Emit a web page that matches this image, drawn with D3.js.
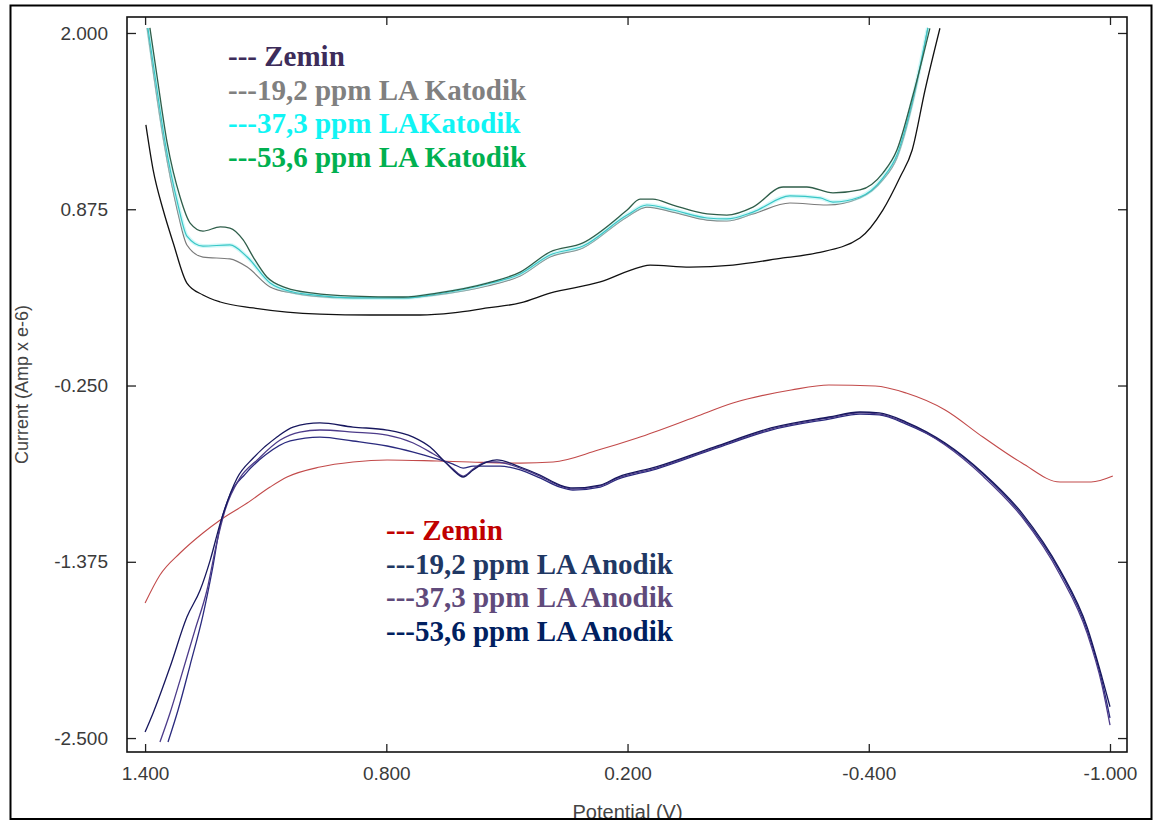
<!DOCTYPE html>
<html>
<head>
<meta charset="utf-8">
<script src="https://cdn.jsdelivr.net/npm/d3@7"></script>
<style>
  html, body { margin: 0; padding: 0; background: #fff; }
  svg { display: block; }
</style>
</head>
<body>
<svg id="chart" width="1160" height="822"></svg>
<script>
// Cyclic voltammetry: cathodic (upper) and anodic (lower) sweeps, [potential V, current uA]
const katodikZemin = [
  [1.398, 1.413], [1.380, 1.126], [1.355, 0.870], [1.330, 0.660], [1.296, 0.404],
  [1.256, 0.328], [1.213, 0.283], [1.131, 0.245], [1.047, 0.219], [0.965, 0.206],
  [0.840, 0.200], [0.716, 0.200], [0.634, 0.213], [0.549, 0.245], [0.467, 0.277],
  [0.393, 0.340], [0.268, 0.411], [0.169, 0.506], [0.144, 0.519], [0.045, 0.506],
  [-0.062, 0.519], [-0.187, 0.564], [-0.271, 0.596], [-0.378, 0.692], [-0.435, 0.870],
  [-0.478, 1.081], [-0.508, 1.253], [-0.540, 1.636], [-0.577, 2.030]
];
const katodik19 = [
  [1.395, 2.032], [1.378, 1.719], [1.353, 1.298], [1.320, 0.870], [1.296, 0.647],
  [1.256, 0.570], [1.189, 0.558], [1.146, 0.506], [1.089, 0.379], [1.032, 0.340],
  [0.982, 0.321], [0.883, 0.309], [0.758, 0.309], [0.674, 0.328], [0.549, 0.385],
  [0.467, 0.449], [0.393, 0.570], [0.311, 0.628], [0.201, 0.826], [0.152, 0.889],
  [0.087, 0.857], [0.002, 0.806], [-0.047, 0.800], [-0.112, 0.845], [-0.204, 0.915],
  [-0.296, 0.902], [-0.378, 0.947], [-0.435, 1.062], [-0.470, 1.202], [-0.508, 1.541],
  [-0.547, 2.032]
];
const katodik37 = [
  [1.393, 2.032], [1.375, 1.719], [1.350, 1.298], [1.318, 0.902], [1.296, 0.704],
  [1.256, 0.640], [1.189, 0.647], [1.146, 0.570], [1.089, 0.404], [1.032, 0.347],
  [0.982, 0.328], [0.883, 0.309], [0.758, 0.309], [0.674, 0.334], [0.549, 0.398],
  [0.467, 0.462], [0.393, 0.583], [0.311, 0.640], [0.201, 0.838], [0.152, 0.902],
  [0.087, 0.870], [0.002, 0.819], [-0.047, 0.813], [-0.112, 0.857], [-0.204, 0.960],
  [-0.279, 0.947], [-0.311, 0.921], [-0.378, 0.953], [-0.435, 1.074], [-0.470, 1.221],
  [-0.508, 1.560], [-0.547, 2.032]
];
const katodik53 = [
  [1.388, 2.032], [1.370, 1.719], [1.345, 1.298], [1.313, 0.953], [1.288, 0.787],
  [1.256, 0.736], [1.213, 0.762], [1.189, 0.755], [1.156, 0.679], [1.131, 0.570],
  [1.097, 0.443], [1.047, 0.372], [0.982, 0.340], [0.883, 0.321], [0.758, 0.315],
  [0.674, 0.340], [0.549, 0.404], [0.467, 0.474], [0.393, 0.602], [0.311, 0.660],
  [0.201, 0.870], [0.169, 0.940], [0.137, 0.940], [0.087, 0.902], [0.002, 0.845],
  [-0.047, 0.838], [-0.112, 0.889], [-0.187, 1.017], [-0.246, 1.017], [-0.311, 0.979],
  [-0.378, 0.998], [-0.435, 1.106], [-0.470, 1.253], [-0.510, 1.604], [-0.552, 2.030]
];
const anodikZemin = [
  [1.400, -1.638], [1.363, -1.459], [1.313, -1.319], [1.256, -1.191], [1.213, -1.108],
  [1.146, -1.000], [1.089, -0.898], [1.047, -0.834], [0.965, -0.770], [0.883, -0.738],
  [0.798, -0.725], [0.674, -0.732], [0.592, -0.738], [0.467, -0.745], [0.385, -0.738],
  [0.273, -0.662], [0.176, -0.585], [0.032, -0.451], [-0.062, -0.362], [-0.207, -0.279],
  [-0.301, -0.247], [-0.416, -0.253], [-0.493, -0.298], [-0.590, -0.406], [-0.684, -0.579],
  [-0.781, -0.745], [-0.876, -0.866], [-0.953, -0.866], [-1.007, -0.828]
];
const anodik53 = [
  [1.400, -2.462], [1.380, -2.340], [1.338, -2.047], [1.296, -1.728], [1.263, -1.555],
  [1.238, -1.364], [1.213, -1.128], [1.171, -0.840], [1.131, -0.713], [1.072, -0.579],
  [1.032, -0.515], [0.965, -0.489], [0.883, -0.515], [0.798, -0.534], [0.733, -0.579],
  [0.691, -0.643], [0.659, -0.725], [0.634, -0.789], [0.609, -0.834], [0.584, -0.789],
  [0.549, -0.738], [0.525, -0.725], [0.467, -0.770], [0.418, -0.821], [0.368, -0.885],
  [0.336, -0.904], [0.268, -0.885], [0.224, -0.834], [0.129, -0.770], [-0.015, -0.643],
  [-0.157, -0.521], [-0.301, -0.451], [-0.378, -0.419], [-0.426, -0.425], [-0.493, -0.483],
  [-0.590, -0.617], [-0.684, -0.808], [-0.781, -1.064], [-0.876, -1.428], [-0.943, -1.791],
  [-0.980, -2.111], [-1.000, -2.300]
];
const anodik37 = [
  [1.363, -2.525], [1.338, -2.340], [1.313, -2.130], [1.276, -1.811], [1.246, -1.555],
  [1.223, -1.268], [1.201, -1.045], [1.164, -0.840], [1.121, -0.725], [1.064, -0.598],
  [1.015, -0.547], [0.965, -0.534], [0.883, -0.547], [0.798, -0.566], [0.733, -0.617],
  [0.691, -0.675], [0.659, -0.725], [0.634, -0.783], [0.609, -0.828], [0.584, -0.783],
  [0.549, -0.738], [0.525, -0.738], [0.467, -0.777], [0.418, -0.828], [0.368, -0.891],
  [0.336, -0.911], [0.268, -0.891], [0.224, -0.840], [0.129, -0.777], [-0.015, -0.649],
  [-0.157, -0.528], [-0.301, -0.457], [-0.378, -0.425], [-0.426, -0.432], [-0.493, -0.489],
  [-0.590, -0.630], [-0.684, -0.828], [-0.781, -1.089], [-0.876, -1.459], [-0.943, -1.830],
  [-0.980, -2.162], [-1.000, -2.417]
];
const anodik19 = [
  [1.343, -2.525], [1.318, -2.321], [1.288, -2.034], [1.256, -1.715], [1.233, -1.428],
  [1.213, -1.140], [1.189, -0.949], [1.151, -0.815], [1.101, -0.694], [1.039, -0.604],
  [0.965, -0.579], [0.883, -0.604], [0.798, -0.636], [0.733, -0.675], [0.666, -0.725],
  [0.634, -0.751], [0.609, -0.777], [0.584, -0.764], [0.549, -0.764], [0.517, -0.764],
  [0.467, -0.789], [0.418, -0.840], [0.368, -0.898], [0.336, -0.917], [0.268, -0.898],
  [0.224, -0.847], [0.129, -0.783], [-0.015, -0.655], [-0.157, -0.534], [-0.301, -0.464],
  [-0.378, -0.432], [-0.426, -0.438], [-0.493, -0.496], [-0.590, -0.623], [-0.684, -0.815],
  [-0.781, -1.077], [-0.876, -1.440], [-0.943, -1.811], [-0.980, -2.136], [-1.000, -2.372]
];

const xTicks = [1.4, 0.8, 0.2, -0.4, -1.0];
const xTickLabels = ["1.400", "0.800", "0.200", "-0.400", "-1.000"];
const yTicks = [2.0, 0.875, -0.25, -1.375, -2.5];
const yTickLabels = ["2.000", "0.875", "-0.250", "-1.375", "-2.500"];

const katodikLegend = ["--- Zemin", "---19,2 ppm LA Katodik", "---37,3 ppm LAKatodik", "---53,6 ppm LA Katodik"];
const anodikLegend = ["--- Zemin", "---19,2 ppm LA Anodik", "---37,3 ppm LA Anodik", "---53,6 ppm LA Anodik"];

// ---- layout ----
const svg = d3.select("#chart");
const plot = { left: 127, right: 1127, top: 17, bottom: 752 };

const x = d3.scaleLinear().domain([1.445, -1.0423]).range([plot.left, plot.right]);
const y = d3.scaleLinear().domain([2.102, -2.589]).range([plot.top, plot.bottom]);

svg.append("rect").attr("width", 1160).attr("height", 822).attr("fill", "#fff");

const tickFont = "'Liberation Sans', Arial, sans-serif";

// bottom axis with labels, inward ticks
const gx = svg.append("g")
  .attr("transform", `translate(0,${plot.bottom})`)
  .call(d3.axisBottom(x).tickValues(xTicks)
    .tickFormat((d, i) => xTickLabels[i])
    .tickSizeInner(-8).tickSizeOuter(0).tickPadding(15));
// left axis with labels, inward ticks
const gy = svg.append("g")
  .attr("transform", `translate(${plot.left},0)`)
  .call(d3.axisLeft(y).tickValues(yTicks)
    .tickFormat((d, i) => yTickLabels[i])
    .tickSizeInner(-9).tickSizeOuter(0).tickPadding(19));
// mirrored ticks on top and right
const gt = svg.append("g")
  .attr("transform", `translate(0,${plot.top})`)
  .call(d3.axisTop(x).tickValues(xTicks).tickFormat("").tickSizeInner(-8).tickSizeOuter(0));
const gr = svg.append("g")
  .attr("transform", `translate(${plot.right},0)`)
  .call(d3.axisRight(y).tickValues(yTicks).tickFormat("").tickSizeInner(-9).tickSizeOuter(0));

[gx, gy, gt, gr].forEach(g => {
  g.select(".domain").remove();
  g.selectAll(".tick line").attr("stroke", "#222").attr("stroke-width", 1.3);
  g.selectAll(".tick text")
    .attr("font-family", tickFont).attr("font-size", 19).attr("fill", "#3a3a3a");
});

// plot frame
svg.append("rect")
  .attr("x", plot.left).attr("y", plot.top)
  .attr("width", plot.right - plot.left).attr("height", plot.bottom - plot.top)
  .attr("fill", "none").attr("stroke", "#111").attr("stroke-width", 1.6);

// curves
const line = d3.line()
  .x(d => x(d[0])).y(d => y(d[1]))
  .curve(d3.curveMonotoneX);

const plotArea = svg.append("g");

function drawCurve(data, color, width, glow) {
  if (glow) {
    plotArea.append("path").datum(data).attr("d", line)
      .attr("fill", "none").attr("stroke", glow).attr("stroke-width", 4)
      .attr("stroke-opacity", 0.45).attr("stroke-linejoin", "round");
  }
  plotArea.append("path").datum(data).attr("d", line)
    .attr("fill", "none").attr("stroke", color).attr("stroke-width", width)
    .attr("stroke-linejoin", "round");
}

drawCurve(katodikZemin, "#111111", 1.3);
drawCurve(katodik19, "#7a7a7a", 1.2);
drawCurve(katodik37, "#38c6c6", 1.2, "#9cf0f0");
drawCurve(katodik53, "#2f5e4a", 1.3);

drawCurve(anodikZemin, "#c24a4a", 1.1);
drawCurve(anodik19, "#2a2a7e", 1.3);
drawCurve(anodik37, "#4c3b8a", 1.3);
drawCurve(anodik53, "#17175e", 1.3);

// legends
const legendFont = "'Liberation Serif', 'Times New Roman', serif";
const katodikColors = ["#3d2c5a", "#808080", "#10f4f4", "#00b050"];
const anodikColors = ["#c00000", "#1f3864", "#604a7b", "#002060"];

function drawLegend(labels, colors, x0, y0, step) {
  svg.append("g").selectAll("text").data(labels).join("text")
    .attr("x", x0).attr("y", (d, i) => y0 + i * step)
    .attr("font-family", legendFont).attr("font-weight", "bold")
    .attr("font-size", 29).attr("fill", (d, i) => colors[i])
    .style("white-space", "pre")
    .text(d => d);
}
drawLegend(katodikLegend, katodikColors, 228, 66, 33.6);
drawLegend(anodikLegend, anodikColors, 386, 540, 33.6);

// axis titles
svg.append("text")
  .attr("transform", `translate(28,${(plot.top + plot.bottom) / 2}) rotate(-90)`)
  .attr("text-anchor", "middle")
  .attr("font-family", tickFont).attr("font-size", 18).attr("fill", "#444")
  .text("Current (Amp x e-6)");
svg.append("text")
  .attr("x", x(0.2)).attr("y", 819)
  .attr("text-anchor", "middle")
  .attr("font-family", tickFont).attr("font-size", 20).attr("fill", "#444")
  .text("Potential (V)");

// outer border of the figure
svg.append("rect").attr("x", 0).attr("y", 820).attr("width", 1160).attr("height", 2).attr("fill", "#fff");
svg.append("rect")
  .attr("x", 10.5).attr("y", 5.5).attr("width", 1141).attr("height", 813.5)
  .attr("fill", "none").attr("stroke", "#000").attr("stroke-width", 2);
</script>
</body>
</html>
